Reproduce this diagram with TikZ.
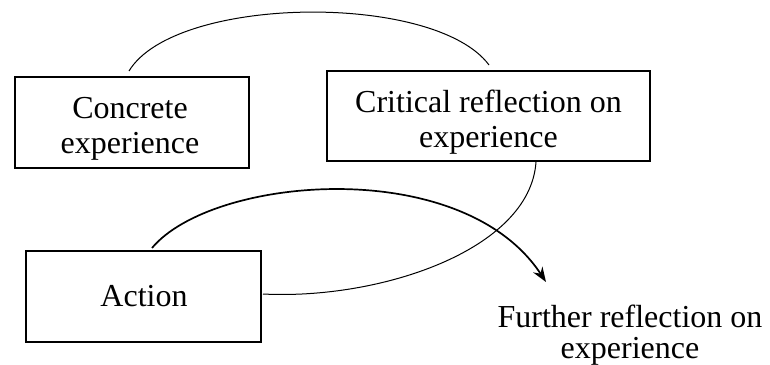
\documentclass[tikz,border=0pt]{standalone}
\usepackage{fontspec}
\setmainfont{Liberation Serif}
\usetikzlibrary{arrows.meta}
\begin{document}
\begin{tikzpicture}[x=1pt,y=-1pt,
  boxshape/.style={draw,line width=1.3pt,inner sep=0pt},
  lbl/.style={inner sep=0pt,align=center,font=\fontsize{32}{35}\selectfont,anchor=base},
  thinarc/.style={line width=1pt},
  thickarc/.style={line width=1.7pt}]
\useasboundingbox (0,0) rectangle (770,364);
\node[boxshape,minimum width=234pt,minimum height=91pt] (ce) at (132,122.5) {};
\node[boxshape,minimum width=323pt,minimum height=90pt] (cr) at (488.5,116) {};
\node[boxshape,minimum width=235pt,minimum height=91pt] (ac) at (143.5,296.5) {};
\node[lbl] (cet) at (130,153) {Concrete\\experience};
\node[lbl] (crt) at (488.5,147) {Critical reflection on\\experience};
\node[lbl] (act) at (144,306) {Action};
\node[lbl,font=\fontsize{32}{31}\selectfont] (fr) at (630,358) {Further reflection on\\experience};
\coordinate (ceA) at (129,71);
\coordinate (crA) at (489,65);
\coordinate (crB) at (536,162);
\coordinate (acA) at (152,248);
\coordinate (acB) at (263,294);
\coordinate (tip) at (546,282);
\draw[thinarc] (ceA) .. controls (175,-5) and (435,-8) .. (crA);
\draw[thinarc] (crB) .. controls (530,250) and (380,300) .. (acB);
\draw[thickarc,-{Stealth[length=15pt,width=11pt,inset=5pt]}] (acA) .. controls (212,176) and (462,154) .. (tip);
\end{tikzpicture}
\end{document}
